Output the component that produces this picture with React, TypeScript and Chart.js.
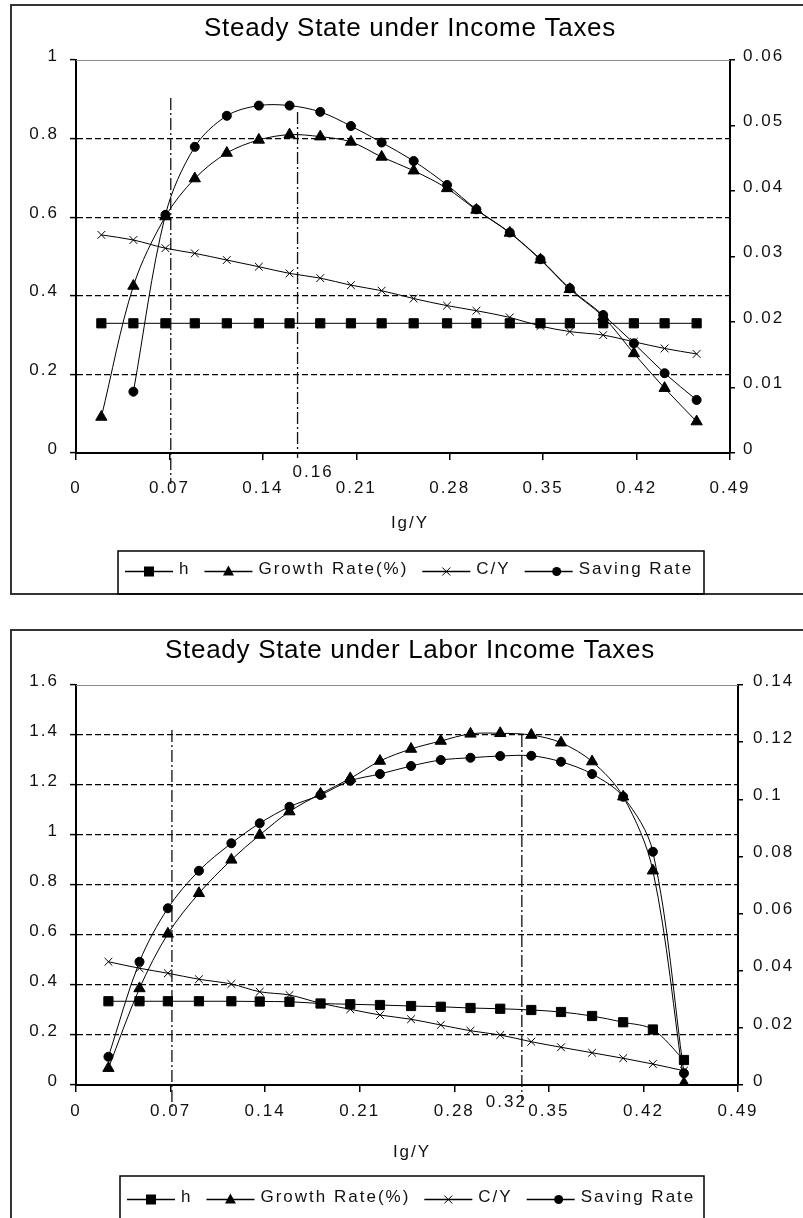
import React, { useEffect, useRef } from "react";
import { Chart, registerables } from "chart.js";

Chart.register(...registerables);

const FONT = "'Liberation Sans', Arial, Helvetica, sans-serif";

const seriesNames = ["h", "Growth Rate(%)", "C/Y", "Saving Rate"];
const xAxisTitle = "Ig/Y";

const xTickValues = [0, 0.07, 0.14, 0.21, 0.28, 0.35, 0.42, 0.49];
const xTickLabels = ["0", "0.07", "0.14", "0.21", "0.28", "0.35", "0.42", "0.49"];

// ---------- Chart 1: Income taxes ----------
const incomeTitle = "Steady State under Income Taxes";
const incomeIgY = [0.019, 0.043, 0.067, 0.089, 0.113, 0.137, 0.16, 0.183, 0.206, 0.229, 0.253, 0.278, 0.3, 0.325, 0.348, 0.37, 0.395, 0.418, 0.441, 0.465];
const incomeH = [0.33, 0.33, 0.33, 0.33, 0.33, 0.33, 0.33, 0.33, 0.33, 0.33, 0.33, 0.33, 0.33, 0.33, 0.33, 0.33, 0.33, 0.33, 0.33, 0.33];
const incomeGrowth = [0.0055, 0.0255, 0.0361, 0.0419, 0.0458, 0.0478, 0.0486, 0.0483, 0.0475, 0.0452, 0.0431, 0.0404, 0.0371, 0.0336, 0.0295, 0.025, 0.0208, 0.0152, 0.0099, 0.0048];
const incomeCY = [0.555, 0.542, 0.521, 0.508, 0.491, 0.474, 0.457, 0.445, 0.427, 0.413, 0.393, 0.375, 0.362, 0.345, 0.323, 0.309, 0.3, 0.283, 0.266, 0.252];
const incomeSaving = [null, 0.156, 0.606, 0.779, 0.858, 0.884, 0.884, 0.868, 0.832, 0.79, 0.743, 0.682, 0.62, 0.561, 0.493, 0.419, 0.351, 0.279, 0.203, 0.135];
const incomeLeftTicks = [0, 0.2, 0.4, 0.6, 0.8, 1];
const incomeLeftLabels = ["0", "0.2", "0.4", "0.6", "0.8", "1"];
const incomeRightTicks = [0, 0.01, 0.02, 0.03, 0.04, 0.05, 0.06];
const incomeRightLabels = ["0", "0.01", "0.02", "0.03", "0.04", "0.05", "0.06"];
const incomeRefX = [0.071, 0.166];
const incomeRefTop = [0.903, 0.868];
const incomeRefBottom = [-0.079, -0.013];
const incomeNote = "0.16";

// ---------- Chart 2: Labor income taxes ----------
const laborTitle = "Steady State under Labor Income Taxes";
const laborIgY = [0.024, 0.047, 0.068, 0.091, 0.115, 0.136, 0.158, 0.181, 0.203, 0.225, 0.248, 0.27, 0.292, 0.314, 0.337, 0.359, 0.382, 0.405, 0.427, 0.45];
const laborH = [0.335, 0.335, 0.335, 0.335, 0.335, 0.334, 0.333, 0.326, 0.323, 0.32, 0.316, 0.313, 0.308, 0.305, 0.3, 0.292, 0.276, 0.251, 0.222, 0.1];
const laborGrowth = [0.0059, 0.0338, 0.0529, 0.0671, 0.0788, 0.0875, 0.0957, 0.1019, 0.1073, 0.1134, 0.1176, 0.1204, 0.1229, 0.1231, 0.1225, 0.1198, 0.1132, 0.1009, 0.075, 0.0006];
const laborCY = [0.493, 0.467, 0.447, 0.423, 0.404, 0.373, 0.36, 0.327, 0.303, 0.28, 0.263, 0.24, 0.217, 0.2, 0.173, 0.151, 0.129, 0.107, 0.084, 0.057];
const laborSaving = [0.113, 0.493, 0.707, 0.857, 0.967, 1.047, 1.113, 1.16, 1.217, 1.244, 1.276, 1.3, 1.309, 1.316, 1.317, 1.293, 1.244, 1.153, 0.933, 0.047];
const laborLeftTicks = [0, 0.2, 0.4, 0.6, 0.8, 1, 1.2, 1.4, 1.6];
const laborLeftLabels = ["0", "0.2", "0.4", "0.6", "0.8", "1", "1.2", "1.4", "1.6"];
const laborRightTicks = [0, 0.02, 0.04, 0.06, 0.08, 0.1, 0.12, 0.14];
const laborRightLabels = ["0", "0.02", "0.04", "0.06", "0.08", "0.1", "0.12", "0.14"];
const laborRefX = [0.071, 0.33];
const laborRefTop = [1.42, 1.4];
const laborRefBottom = [-0.088, -0.06];
const laborNote = "0.32";

type Geo = {
  top: number; width: number; height: number;
  plotLeft: number; plotRight: number; plotTop: number; plotBottom: number;
  xPad: number; leftPad: number; rightPad: number;
  boxX: number; boxY: number; boxH: number;
  titleX: number; titleY: number;
  axisTitleX: number; axisTitleY: number;
  noteAlign: CanvasTextAlign; noteDx: number; noteY: number;
  legX: number; legY: number; legW: number; legH: number; legRowY: number; legStartX: number;
};

type Spec = {
  title: string;
  xs: number[]; h: number[]; growth: number[]; cy: number[]; saving: (number | null)[];
  leftTicks: number[]; leftLabels: string[]; rightTicks: number[]; rightLabels: string[];
  refX: number[]; refTop: number[]; refBottom: number[]; note: string;
  geo: Geo;
};

const incomeSpec: Spec = {
  title: incomeTitle, xs: incomeIgY, h: incomeH, growth: incomeGrowth, cy: incomeCY, saving: incomeSaving,
  leftTicks: incomeLeftTicks, leftLabels: incomeLeftLabels, rightTicks: incomeRightTicks, rightLabels: incomeRightLabels,
  refX: incomeRefX, refTop: incomeRefTop, refBottom: incomeRefBottom, note: incomeNote,
  geo: {
    top: 0, width: 803, height: 612,
    plotLeft: 76, plotRight: 730, plotTop: 60, plotBottom: 453,
    xPad: 18, leftPad: 11, rightPad: 8,
    boxX: 11, boxY: 5, boxH: 589,
    titleX: 410, titleY: 36,
    axisTitleX: 410, axisTitleY: 523,
    noteAlign: "left", noteDx: -5, noteY: 472,
    legX: 118, legY: 551, legW: 586, legH: 43, legRowY: 571, legStartX: 125,
  },
};

const laborSpec: Spec = {
  title: laborTitle, xs: laborIgY, h: laborH, growth: laborGrowth, cy: laborCY, saving: laborSaving,
  leftTicks: laborLeftTicks, leftLabels: laborLeftLabels, rightTicks: laborRightTicks, rightLabels: laborRightLabels,
  refX: laborRefX, refTop: laborRefTop, refBottom: laborRefBottom, note: laborNote,
  geo: {
    top: 612, width: 803, height: 606,
    plotLeft: 76, plotRight: 738, plotTop: 73, plotBottom: 473,
    xPad: 9, leftPad: 11, rightPad: 10,
    boxX: 11, boxY: 18, boxH: 700,
    titleX: 410, titleY: 46,
    axisTitleX: 412, axisTitleY: 540,
    noteAlign: "right", noteDx: 5, noteY: 490,
    legX: 120, legY: 564, legW: 584, legH: 100, legRowY: 587, legStartX: 127,
  },
};

function drawMarker(c: CanvasRenderingContext2D, kind: number, x: number, y: number) {
  c.fillStyle = "#000";
  c.strokeStyle = "#000";
  c.lineWidth = 1;
  c.beginPath();
  if (kind === 0) {
    c.rect(x - 5, y - 5, 10, 10);
    c.fill();
  } else if (kind === 1) {
    c.moveTo(x, y - 6);
    c.lineTo(x + 5.5, y + 4);
    c.lineTo(x - 5.5, y + 4);
    c.closePath();
    c.fill();
  } else if (kind === 2) {
    c.moveTo(x - 4, y - 4);
    c.lineTo(x + 4, y + 4);
    c.moveTo(x + 4, y - 4);
    c.lineTo(x - 4, y + 4);
    c.stroke();
  } else {
    c.arc(x, y, 4.5, 0, Math.PI * 2);
    c.fill();
  }
}

function SteadyChart({ spec }: { spec: Spec }) {
  const ref = useRef<HTMLCanvasElement | null>(null);
  const g = spec.geo;

  useEffect(() => {
    const canvas = ref.current;
    if (!canvas) return;
    const pts = (xs: number[], ys: (number | null)[]) =>
      xs.map((x, i) => ({ x, y: ys[i] })).filter((p) => p.y !== null) as { x: number; y: number }[];

    const base = {
      borderColor: "#000",
      borderWidth: 1,
      pointBackgroundColor: "#000",
      pointBorderColor: "#000",
      pointBorderWidth: 1,
      tension: 0.33,
      fill: false,
    };

    const datasets: any[] = [
      { ...base, label: seriesNames[0], data: pts(spec.xs, spec.h), pointStyle: "rect", pointRadius: 6.5, yAxisID: "y" },
      { ...base, label: seriesNames[1], data: pts(spec.xs, spec.growth), pointStyle: "triangle", pointRadius: 6.5, yAxisID: "y1" },
      { ...base, label: seriesNames[2], data: pts(spec.xs, spec.cy), pointStyle: "crossRot", pointRadius: 5.5, yAxisID: "y" },
      { ...base, label: seriesNames[3], data: pts(spec.xs, spec.saving), pointStyle: "circle", pointRadius: 4.5, yAxisID: "y" },
      ...spec.refX.map((x, i) => ({
        label: "ref" + i,
        data: [
          { x, y: spec.refTop[i] },
          { x, y: spec.refBottom[i] },
        ],
        borderColor: "#111",
        borderWidth: 1.3,
        borderDash: [12, 3, 2, 3],
        pointRadius: 0,
        tension: 0,
        clip: false,
        yAxisID: "y",
      })),
    ];

    const leftMax = spec.leftTicks[spec.leftTicks.length - 1];
    const rightMax = spec.rightTicks[spec.rightTicks.length - 1];
    const tickFont = { family: FONT, size: 17 };

    const deco = {
      id: "deco",
      beforeDraw(chart: any) {
        const c = chart.ctx as any;
        c.save();
        c.fillStyle = "#fff";
        c.fillRect(0, 0, chart.width, chart.height);
        c.restore();
        c.letterSpacing = "2px";
      },
      beforeDatasetsDraw(chart: any) {
        const c = chart.ctx as any;
        const a = chart.chartArea;
        c.save();
        c.strokeStyle = "#8c8c8c";
        c.lineWidth = 1;
        c.beginPath();
        c.moveTo(a.left, a.top + 0.5);
        c.lineTo(a.right, a.top + 0.5);
        c.stroke();
        c.restore();
      },
      afterDraw(chart: any) {
        const c = chart.ctx as any;
        c.save();
        // outer frame
        c.letterSpacing = "0px";
        c.strokeStyle = "#333";
        c.lineWidth = 2;
        c.strokeRect(g.boxX, g.boxY, 1000, g.boxH);
        // title
        c.fillStyle = "#000";
        c.font = `26px ${FONT}`;
        c.letterSpacing = "0.7px";
        c.textAlign = "center";
        c.textBaseline = "alphabetic";
        c.fillText(spec.title, g.titleX, g.titleY);
        // axis title
        c.font = `17px ${FONT}`;
        c.letterSpacing = "2px";
        c.textBaseline = "middle";
        c.fillStyle = "#111";
        c.fillText(xAxisTitle, g.axisTitleX, g.axisTitleY);
        // note label at reference line
        const px = chart.scales.x.getPixelForValue(spec.refX[1]);
        c.letterSpacing = "2px";
        c.textAlign = g.noteAlign;
        c.fillText(spec.note, px + g.noteDx, g.noteY);
        // legend
        c.letterSpacing = "0px";
        c.strokeStyle = "#000";
        c.lineWidth = 1.5;
        c.strokeRect(g.legX, g.legY, g.legW, g.legH);
        let x = g.legStartX;
        const y = g.legRowY;
        const L = 48;
        seriesNames.forEach((name, k) => {
          c.strokeStyle = "#000";
          c.lineWidth = 1.3;
          c.beginPath();
          c.moveTo(x, y + 0.5);
          c.lineTo(x + L, y + 0.5);
          c.stroke();
          drawMarker(c, k, x + L / 2 + (k === 3 ? 8 : 0), y + 0.5);
          x += L + 6;
          c.font = `17px ${FONT}`;
          c.letterSpacing = "2px";
          c.textAlign = "left";
          c.textBaseline = "middle";
          c.fillStyle = "#111";
          c.fillText(name, x, y - 2);
          x += c.measureText(name).width + 14;
          c.letterSpacing = "0px";
        });
        c.restore();
        c.letterSpacing = "0px";
      },
    };

    const chart = new Chart(canvas, {
      type: "line",
      data: { datasets },
      plugins: [deco as any],
      options: {
        responsive: false,
        animation: false,
        devicePixelRatio: 1,
        events: [],
        layout: { padding: { top: g.plotTop, left: 0, right: 0, bottom: 0 } },
        plugins: { legend: { display: false }, title: { display: false }, tooltip: { enabled: false } },
        scales: {
          x: {
            type: "linear",
            position: "bottom",
            min: 0,
            max: 0.49,
            afterBuildTicks: (s: any) => {
              s.ticks = xTickValues.map((v) => ({ value: v }));
            },
            afterFit: (s: any) => {
              s.height = g.height - g.plotBottom;
            },
            ticks: {
              callback: (_v: any, i: number) => xTickLabels[i],
              font: tickFont,
              color: "#111",
              padding: g.xPad,
              autoSkip: false,
              maxRotation: 0,
              minRotation: 0,
            },
            grid: { drawOnChartArea: false, drawTicks: true, tickLength: 7, tickColor: "#000", tickWidth: 1.5, lineWidth: 1.5 },
            border: { display: true, color: "#000", width: 2 },
          },
          y: {
            type: "linear",
            position: "left",
            min: 0,
            max: leftMax,
            afterBuildTicks: (s: any) => {
              s.ticks = spec.leftTicks.map((v) => ({ value: v }));
            },
            afterFit: (s: any) => {
              s.width = g.plotLeft;
            },
            ticks: {
              callback: (_v: any, i: number) => spec.leftLabels[i],
              font: tickFont,
              color: "#111",
              padding: g.leftPad,
              labelOffset: -4,
            },
            grid: {
              drawOnChartArea: true,
              color: (c: any) => {
                const v = c.tick ? c.tick.value : -1;
                return v === 0 || v === leftMax ? "rgba(0,0,0,0)" : "#000";
              },
              lineWidth: 1.2,
              drawTicks: true,
              tickLength: 6,
              tickColor: "#000",
              tickWidth: 1.5,
            },
            border: { display: true, color: "#000", width: 2, dash: [6, 3] },
          },
          y1: {
            type: "linear",
            position: "right",
            min: 0,
            max: rightMax,
            afterBuildTicks: (s: any) => {
              s.ticks = spec.rightTicks.map((v) => ({ value: v }));
            },
            afterFit: (s: any) => {
              s.width = g.width - g.plotRight;
            },
            ticks: {
              callback: (_v: any, i: number) => spec.rightLabels[i],
              font: tickFont,
              color: "#111",
              padding: g.rightPad,
              labelOffset: -4,
            },
            grid: { drawOnChartArea: false, drawTicks: true, tickLength: 5, tickColor: "#000", tickWidth: 1.5, lineWidth: 1.5 },
            border: { display: true, color: "#000", width: 2 },
          },
        },
      } as any,
    });
    return () => chart.destroy();
  }, [spec]);

  return (
    <canvas
      ref={ref}
      width={g.width}
      height={g.height}
      style={{ position: "absolute", left: 0, top: g.top, width: g.width, height: g.height, display: "block" }}
    />
  );
}

export default function App() {
  return (
    <div
      style={{
        position: "absolute",
        left: 0,
        top: 0,
        width: 803,
        height: 1218,
        overflow: "hidden",
        background: "#fff",
      }}
    >
      <SteadyChart spec={incomeSpec} />
      <SteadyChart spec={laborSpec} />
    </div>
  );
}
